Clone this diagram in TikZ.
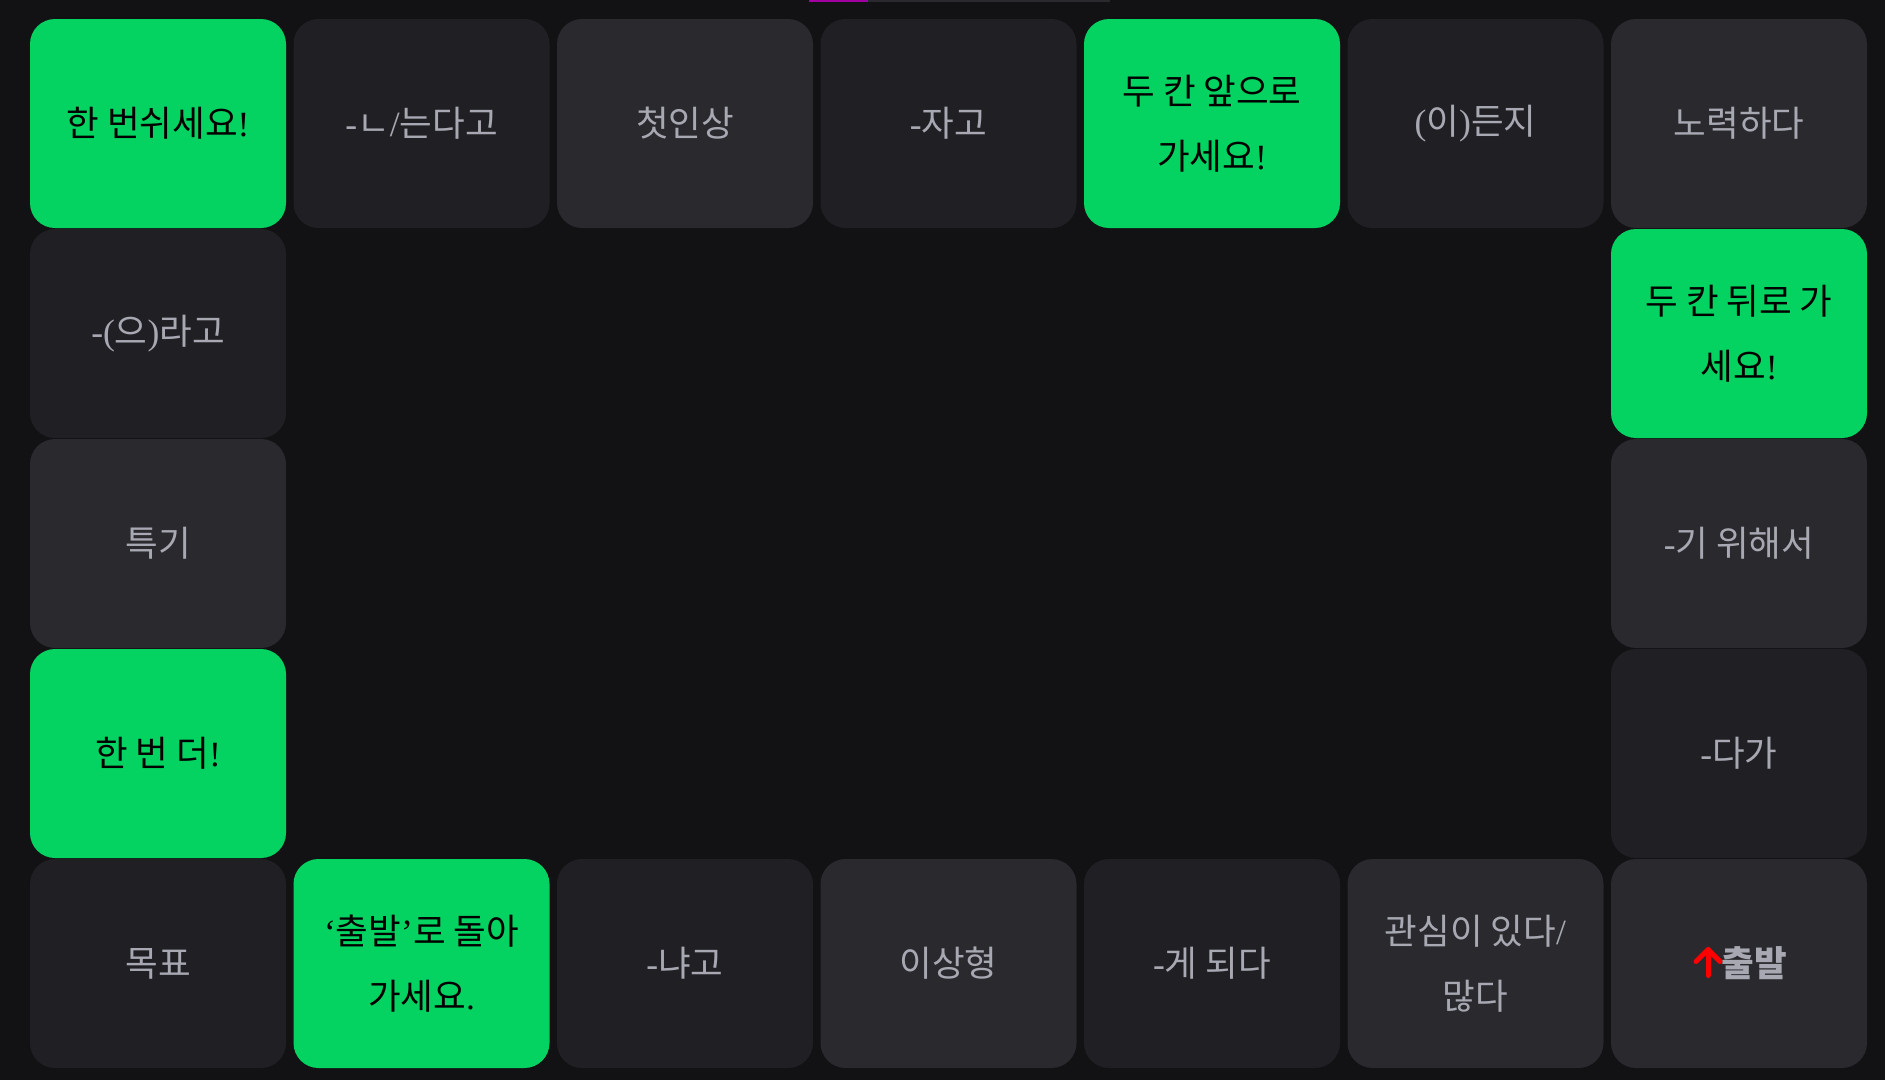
\documentclass[tikz,border=0pt]{standalone}
\usepackage{fontspec}
\newfontfamily\ko{Noto Sans CJK KR}
\newfontfamily\latfont{Liberation Serif}
\newcommand\LT[1]{{\latfont #1}}
\definecolor{bgc}{HTML}{121214}
\definecolor{shapedark}{HTML}{202024}
\definecolor{shapelight}{HTML}{29292E}
\definecolor{greenc}{HTML}{04D361}
\definecolor{txtgray}{HTML}{A8A8B3}
\definecolor{barmag}{HTML}{A000A0}
\definecolor{bargray}{HTML}{2A2A2E}
\tikzset{
  cellbase/.style={rectangle, rounded corners=25pt, minimum width=256pt, minimum height=209pt,
    inner sep=0pt, align=center, font=\fontsize{35.5pt}{65pt}\selectfont\ko},
  darkcell/.style={cellbase, fill=shapedark, text=txtgray},
  lightcell/.style={cellbase, fill=shapelight, text=txtgray},
  greencell/.style={cellbase, fill=greenc, text=black},
  startarrow/.style={draw=red, line width=5pt, line cap=round, line join=round},
}
\newcommand\cell[5]{\node[#4] (#1) at ({158+263.5*#2},{123.5+210*#3}) {#5};}
\begin{document}
\begin{tikzpicture}[x=1pt,y=-1pt]
\fill[bgc] (0,0) rectangle (1885,1080);
\useasboundingbox (0,0) rectangle (1885,1080);
% top progress bar
\fill[bargray] (868,0) rectangle (1110,2);
\fill[barmag] (809,0) rectangle (868,2);
% row 0
\cell{c00}{0}{0}{greencell}{한 번쉬세요\LT{!}}
\cell{c10}{1}{0}{darkcell}{\LT{-}ㄴ\LT{/}는다고}
\cell{c20}{2}{0}{lightcell}{첫인상}
\cell{c30}{3}{0}{darkcell}{\LT{-}자고}
\cell{c40}{4}{0}{greencell}{두 칸 앞으로\\가세요\LT{!}}
\cell{c50}{5}{0}{darkcell}{\LT{(}이\LT{)}든지}
\cell{c60}{6}{0}{lightcell}{노력하다}
% side columns
\cell{c01}{0}{1}{darkcell}{\LT{-(}으\LT{)}라고}
\cell{c61}{6}{1}{greencell}{두 칸 뒤로 가\\세요\LT{!}}
\cell{c02}{0}{2}{lightcell}{특기}
\cell{c62}{6}{2}{lightcell}{\LT{-}기 위해서}
\cell{c03}{0}{3}{greencell}{한 번 더\LT{!}}
\cell{c63}{6}{3}{darkcell}{\LT{-}다가}
% row 4
\cell{c04}{0}{4}{darkcell}{목표}
\cell{c14}{1}{4}{greencell}{\LT{‘}출발\LT{’}로 돌아\\가세요\LT{.}}
\cell{c24}{2}{4}{darkcell}{\LT{-}냐고}
\cell{c34}{3}{4}{lightcell}{이상형}
\cell{c44}{4}{4}{darkcell}{\LT{-}게 되다}
\cell{c54}{5}{4}{lightcell}{관심이 있다\LT{/}\\많다}
\cell{c64}{6}{4}{lightcell}{\hspace*{31pt}\bfseries 출발}
% red start arrow
\coordinate (arrbot) at ([shift={(-31,12)}]c64.center);
\coordinate (arrtop) at ([shift={(-31,-14)}]c64.center);
\coordinate (arrl) at ([shift={(-43,-2)}]c64.center);
\coordinate (arrr) at ([shift={(-19,-2)}]c64.center);
\draw[startarrow] (arrbot) -- (arrtop);
\draw[startarrow] (arrl) -- (arrtop) -- (arrr);
\end{tikzpicture}
\end{document}
